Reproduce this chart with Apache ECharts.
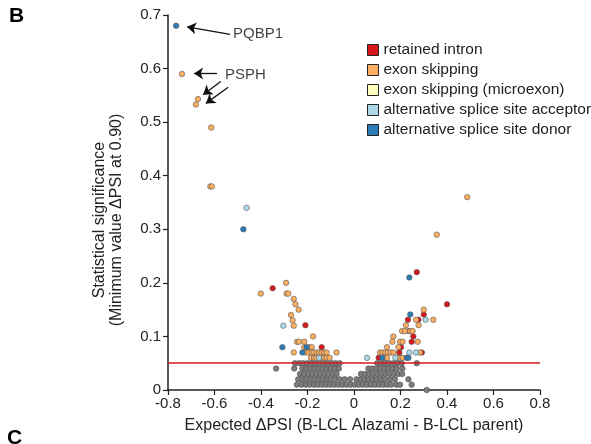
<!DOCTYPE html>
<html>
<head>
<meta charset="utf-8">
<script src="https://cdn.jsdelivr.net/npm/echarts@6/dist/echarts.min.js"></script>
<style>
html,body{margin:0;padding:0;background:#fff;}
#chart{width:591px;height:444px;}
</style>
</head>
<body>
<div id="chart"></div>
<script>
// ---- data ----
var legendNames = ['retained intron','exon skipping','exon skipping (microexon)','alternative splice site acceptor','alternative splice site donor'];
var xTicks = ['-0.8','-0.6','-0.4','-0.2','0','0.2','0.4','0.6','0.8'];
var yTicks = ['0','0.1','0.2','0.3','0.4','0.5','0.6','0.7'];
var threshold = 0.05;

var retainedIntron = [
  [-0.35,0.19],[-0.209,0.121],[-0.139,0.08],
  [0.27,0.22],[0.4,0.16],[0.3,0.141],[0.232,0.131],[0.277,0.131],
  [0.237,0.11],[0.255,0.10],[0.248,0.09],[0.202,0.08],[0.195,0.07],[0.292,0.07],[0.106,0.06]
];
var exonSkipping = [
  [-0.74,0.59],[-0.671,0.543],[-0.68,0.533],[-0.614,0.49],[-0.618,0.38],[-0.611,0.38],
  [0.487,0.36],[0.356,0.29],
  [-0.401,0.18],[-0.292,0.20],[-0.29,0.18],[-0.283,0.18],[-0.259,0.17],[-0.252,0.16],[-0.238,0.15],
  [-0.271,0.14],[-0.264,0.13],[-0.259,0.12],[-0.176,0.10],
  [-0.245,0.09],[-0.237,0.09],[-0.214,0.09],
  [-0.214,0.08],[-0.192,0.08],[-0.182,0.08],
  [-0.259,0.07],[-0.208,0.07],[-0.196,0.07],[-0.182,0.07],[-0.172,0.07],[-0.16,0.07],[-0.15,0.07],
  [-0.139,0.07],[-0.128,0.07],[-0.118,0.07],[-0.075,0.07],
  [-0.185,0.06],[-0.172,0.06],[-0.162,0.06],[-0.139,0.06],[-0.128,0.06],[-0.117,0.06],[-0.105,0.06],
  [0.3,0.15],[0.267,0.131],[0.341,0.131],[0.223,0.121],[0.278,0.121],
  [0.207,0.11],[0.219,0.11],[0.242,0.11],[0.252,0.11],[0.169,0.10],
  [0.165,0.09],[0.198,0.09],[0.209,0.09],[0.274,0.09],
  [0.142,0.08],[0.191,0.08],
  [0.112,0.07],[0.123,0.07],[0.135,0.07],[0.146,0.07],[0.158,0.07],[0.169,0.07],[0.284,0.07],
  [0.133,0.06],[0.142,0.06],[0.188,0.06],[0.198,0.06],[0.209,0.06]
];
var microexon = [];
var acceptor = [
  [-0.462,0.34],[-0.304,0.12],[-0.15,0.06],[0.308,0.131],[0.238,0.07],[0.267,0.07],[0.056,0.06],[0.178,0.06]
];
var donor = [
  [-0.765,0.68],[-0.476,0.30],[-0.308,0.08],[-0.204,0.08],[-0.222,0.07],
  [0.238,0.21],[0.242,0.141],[0.122,0.06],[0.227,0.06],[0.234,0.06]
];
var notSignificant = [
  [-0.254,0.05],[-0.236,0.05],[-0.219,0.05],[-0.201,0.05],[-0.184,0.05],[-0.166,0.05],[-0.149,0.05],
  [-0.131,0.05],[-0.114,0.05],[-0.096,0.05],[-0.079,0.05],[-0.062,0.05],
  [0.100,0.05],[0.117,0.05],[0.135,0.05],[0.152,0.05],[0.170,0.05],[0.187,0.05],[0.205,0.05],[0.27,0.05],
  [-0.335,0.04],[-0.257,0.04],[-0.222,0.04],[-0.205,0.04],[-0.187,0.04],[-0.170,0.04],[-0.152,0.04],
  [-0.135,0.04],[-0.117,0.04],[-0.100,0.04],[-0.082,0.04],[-0.065,0.04],
  [0.062,0.04],[0.079,0.04],[0.097,0.04],[0.114,0.04],[0.132,0.04],[0.149,0.04],[0.167,0.04],[0.184,0.04],[0.208,0.04],
  [-0.232,0.03],[-0.215,0.03],[-0.197,0.03],[-0.180,0.03],[-0.162,0.03],[-0.145,0.03],[-0.127,0.03],
  [-0.110,0.03],[-0.092,0.03],[-0.075,0.03],
  [0.030,0.03],[0.047,0.03],[0.065,0.03],[0.082,0.03],[0.100,0.03],[0.117,0.03],[0.135,0.03],
  [0.152,0.03],[0.170,0.03],[0.190,0.03],[0.207,0.03],
  [-0.240,0.02],[-0.222,0.02],[-0.205,0.02],[-0.187,0.02],[-0.170,0.02],[-0.152,0.02],[-0.135,0.02],
  [-0.117,0.02],[-0.100,0.02],[-0.082,0.02],[-0.062,0.02],[-0.040,0.02],[-0.017,0.02],
  [0.011,0.02],[0.028,0.02],[0.046,0.02],[0.063,0.02],[0.081,0.02],[0.098,0.02],[0.116,0.02],
  [0.133,0.02],[0.155,0.02],[0.176,0.02],[0.234,0.02],
  [-0.246,0.01],[-0.225,0.01],[-0.207,0.01],[-0.190,0.01],[-0.172,0.01],[-0.155,0.01],[-0.137,0.01],
  [-0.120,0.01],[-0.102,0.01],[-0.085,0.01],[-0.067,0.01],[-0.050,0.01],[-0.032,0.01],[-0.015,0.01],
  [0.003,0.01],[0.020,0.01],[0.038,0.01],[0.055,0.01],[0.073,0.01],[0.090,0.01],[0.108,0.01],
  [0.125,0.01],[0.143,0.01],[0.160,0.01],[0.183,0.01],[0.198,0.01],[0.248,0.01],
  [0.313,0.0]
];
var annotationLabels = [
  {name:'PQBP1', value:[-0.52,0.664]},
  {name:'PSPH', value:[-0.555,0.589]}
];
var annotationArrows = [
  [[-0.533,0.664],[-0.718,0.678]],
  [[-0.589,0.591],[-0.688,0.591]],
  [[-0.573,0.576],[-0.649,0.551]],
  [[-0.541,0.565],[-0.637,0.535]]
];
var colors = ['#d7191c','#fdae61','#ffffbf','#abd9e9','#2c7bb6'];

// ---- chart ----
var FONT = '"Liberation Sans", Arial, Helvetica, sans-serif';
var chart = echarts.init(document.getElementById('chart'), null, {renderer:'canvas'});
function dotSeries(name, data, color){
  return {
    name:name, type:'scatter', data:data, symbolSize:5.5,
    itemStyle:{color:color, borderColor:'#555', borderWidth:0.6, opacity:1},
    emphasis:{disabled:true}, z:3
  };
}
var seriesData = [retainedIntron, exonSkipping, microexon, acceptor, donor];
var series = [
  {
    name:'not significant', type:'scatter', data:notSignificant, symbolSize:5.5,
    itemStyle:{color:'#7d7d7d', borderColor:'#4a4a4a', borderWidth:0.6, opacity:1},
    emphasis:{disabled:true}, z:2,
    markLine:{
      silent:true, symbol:['none','none'], label:{show:false},
      lineStyle:{color:'#d7191c', width:1.6, type:'solid'},
      data:[{yAxis:threshold}]
    }
  }
];
legendNames.forEach(function(n,i){ series.push(dotSeries(n, seriesData[i], colors[i])); });
series.push({
  name:'annotations', type:'scatter', data:annotationLabels, symbolSize:0, z:5,
  label:{show:true, position:'right', distance:0, formatter:'{b}', color:'#111', fontSize:15, fontFamily:FONT},
  emphasis:{disabled:true},
  markLine:{
    silent:true, symbol:['none','arrow'], symbolSize:9, label:{show:false},
    lineStyle:{color:'#111', width:1.3, type:'solid'},
    itemStyle:{color:'#111'},
    data: annotationArrows.map(function(a){ return [{coord:a[0]},{coord:a[1]}]; })
  }
});

chart.setOption({
  animation:false,
  backgroundColor:'#fff',
  grid:{left:168, right:51, top:15, bottom:54, containLabel:false},
  legend:{
    data:legendNames, orient:'vertical', left:362, top:37,
    icon:'rect', itemWidth:11, itemHeight:11, itemGap:4,
    itemStyle:{borderColor:'#222', borderWidth:1},
    textStyle:{color:'#222', fontSize:15.5, fontFamily:FONT, lineHeight:16},
    selectedMode:false
  },
  xAxis:{
    type:'value', min:-0.8, max:0.8, interval:0.2,
    name:'Expected \u0394PSI (B-LCL Alazami - B-LCL parent)', nameLocation:'middle', nameGap:28,
    nameTextStyle:{color:'#222', fontSize:16, fontFamily:FONT},
    axisLine:{show:true, onZero:false, lineStyle:{color:'#222', width:1.5}},
    axisTick:{show:true, length:5, inside:false, lineStyle:{color:'#222', width:1.2}},
    axisLabel:{color:'#222', fontSize:15, fontFamily:FONT, margin:6,
      formatter:function(v){ var i=Math.round((v+0.8)/0.2); return xTicks[i]; }},
    splitLine:{show:false}
  },
  yAxis:{
    type:'value', min:0, max:0.7, interval:0.1,
    axisLine:{show:true, onZero:false, lineStyle:{color:'#222', width:1.5}},
    axisTick:{show:true, length:5, inside:false, lineStyle:{color:'#222', width:1.2}},
    axisLabel:{color:'#222', fontSize:15, fontFamily:FONT, margin:7,
      formatter:function(v){ var i=Math.round(v/0.1); return yTicks[i]; }},
    splitLine:{show:false}
  },
  graphic:[
    {type:'text', x:100, y:220, rotation:Math.PI/2, style:{text:'Statistical significance', fill:'#222', font:'16px '+FONT, align:'center', verticalAlign:'middle'}},
    {type:'text', x:117, y:220, rotation:Math.PI/2, style:{text:'(Minimum value \u0394PSI at 0.90)', fill:'#222', font:'16px '+FONT, align:'center', verticalAlign:'middle'}},
    {type:'text', x:9, y:6, style:{text:'B', fill:'#000', font:'bold 21px '+FONT}},
    {type:'text', x:7, y:428, style:{text:'C', fill:'#000', font:'bold 21px '+FONT}}
  ],
  series:series
});
</script>
</body>
</html>
